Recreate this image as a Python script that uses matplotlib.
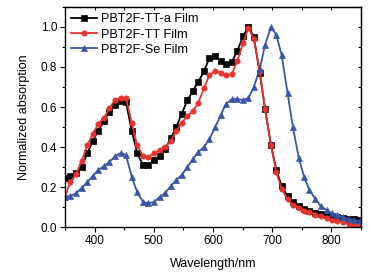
import matplotlib
matplotlib.use("Agg")
import matplotlib.pyplot as plt
from matplotlib.ticker import MultipleLocator

plt.rcParams['font.family'] = ['Liberation Sans', 'DejaVu Sans']

wavelength = [350, 359, 369, 378, 388, 397, 406, 416, 425, 435, 444, 453, 463, 472, 482, 491,
              500, 510, 519, 529, 538, 547, 557, 566, 575, 585, 594, 604, 613, 622, 632, 641,
              651, 660, 669, 679, 688, 698, 707, 716, 726, 735, 745, 754, 763, 773, 782, 792,
              801, 810, 820, 829, 839, 848]

tt_a = [0.245, 0.255, 0.27, 0.30, 0.37, 0.43, 0.48, 0.53, 0.575, 0.61, 0.63, 0.625, 0.48, 0.37,
        0.31, 0.31, 0.335, 0.355, 0.39, 0.445, 0.50, 0.565, 0.635, 0.68, 0.725, 0.78, 0.845,
        0.855, 0.83, 0.815, 0.825, 0.88, 0.955, 1.0, 0.95, 0.77, 0.59, 0.41, 0.285, 0.205,
        0.155, 0.125, 0.105, 0.093, 0.083, 0.073, 0.067, 0.062, 0.057, 0.052, 0.047, 0.043,
        0.04, 0.037]

tt = [0.15, 0.225, 0.265, 0.33, 0.41, 0.465, 0.515, 0.545, 0.595, 0.635, 0.645, 0.645, 0.52,
      0.41, 0.355, 0.35, 0.37, 0.385, 0.40, 0.43, 0.48, 0.52, 0.555, 0.58, 0.62, 0.695, 0.76,
      0.78, 0.77, 0.76, 0.765, 0.83, 0.92, 0.995, 0.94, 0.78, 0.59, 0.41, 0.275, 0.19, 0.14,
      0.11, 0.095, 0.083, 0.075, 0.063, 0.055, 0.047, 0.038, 0.03, 0.025, 0.018, 0.01, 0.003]

se = [0.15, 0.155, 0.17, 0.195, 0.225, 0.255, 0.285, 0.305, 0.325, 0.355, 0.37, 0.36, 0.25,
      0.175, 0.125, 0.12, 0.125, 0.15, 0.17, 0.205, 0.235, 0.26, 0.30, 0.34, 0.375, 0.40, 0.44,
      0.50, 0.56, 0.615, 0.64, 0.64, 0.635, 0.645, 0.70, 0.79, 0.91, 1.0, 0.96, 0.86, 0.67,
      0.50, 0.345, 0.25, 0.185, 0.14, 0.105, 0.085, 0.07, 0.06, 0.05, 0.04, 0.035, 0.03]

labels = ["PBT2F-TT-a Film", "PBT2F-TT Film", "PBT2F-Se Film"]
colors = ["#000000", "#e8322f", "#3a55a5"]
markers = ["s", "o", "^"]

fig = plt.figure(figsize=(3.71, 2.78), dpi=100)
ax = fig.add_axes([0.175, 0.183, 0.798, 0.792])

for y, lab, c, m in zip([tt_a, tt, se], labels, colors, markers):
    ax.plot(wavelength, y, color=c, marker=m, markersize=3.8, linewidth=1.3, label=lab,
            markeredgewidth=0.5)

ax.set_xlim(350, 850)
ax.set_ylim(0, 1.1)
ax.xaxis.set_major_locator(MultipleLocator(100))
ax.xaxis.set_minor_locator(MultipleLocator(50))
ax.yaxis.set_major_locator(MultipleLocator(0.2))
ax.yaxis.set_minor_locator(MultipleLocator(0.1))
ax.set_yticks([0.0, 0.2, 0.4, 0.6, 0.8, 1.0])
ax.set_xticks([400, 500, 600, 700, 800])
ax.set_yticklabels(["0.0", "0.2", "0.4", "0.6", "0.8", "1.0"])
ax.tick_params(which='major', direction='out', length=3.5, width=0.8, labelsize=8.5, pad=2)
ax.tick_params(which='minor', direction='out', length=2, width=0.8)

sx = ax.secondary_xaxis('top')
sx.xaxis.set_major_locator(MultipleLocator(100))
sx.xaxis.set_minor_locator(MultipleLocator(50))
sx.tick_params(which='both', direction='in', length=2, width=0.8, labeltop=False)
sy = ax.secondary_yaxis('right')
sy.yaxis.set_major_locator(MultipleLocator(0.2))
sy.yaxis.set_minor_locator(MultipleLocator(0.1))
sy.tick_params(which='both', direction='in', length=2, width=0.8, labelright=False)

for s in ax.spines.values():
    s.set_linewidth(1.0)

ax.set_xlabel("Wavelength/nm", fontsize=9, labelpad=8)
ax.set_ylabel("Normalized absorption", fontsize=9, labelpad=8)

ax.legend(loc='upper left', frameon=False, fontsize=9.2, handlelength=2.0,
          handletextpad=0.3, labelspacing=0.25, borderaxespad=0.3, borderpad=0.2)

fig.savefig("out.png", dpi=100)
